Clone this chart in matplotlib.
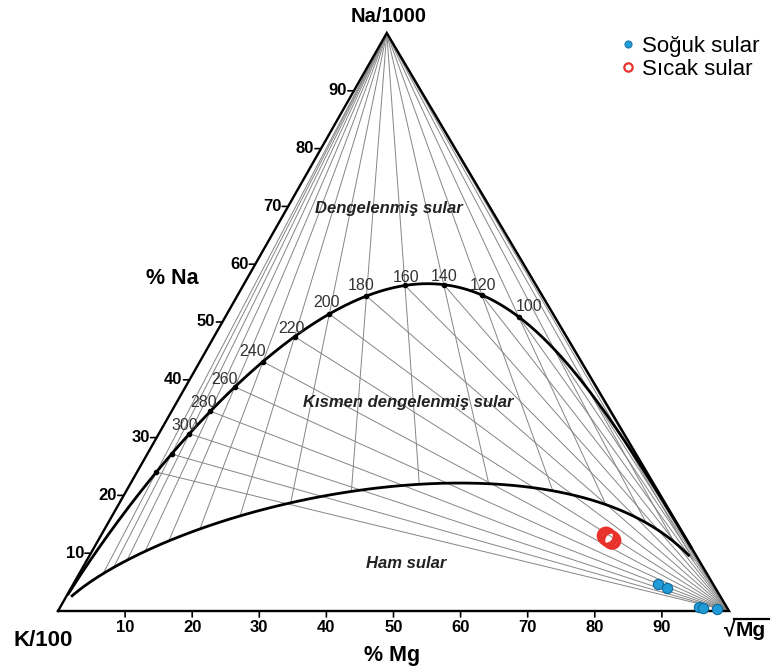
import numpy as np
import matplotlib.pyplot as plt
from matplotlib.lines import Line2D

plt.rcParams['font.family'] = ['Liberation Sans', 'DejaVu Sans']

# isotherm temperatures (C) for the K-Na and K-Mg geothermometers
iso_temps = [20, 40, 60, 80, 100, 120, 140, 160, 180, 200, 220, 240, 260, 280, 300, 320, 340]
dot_temps = [100, 120, 140, 160, 180, 200, 220, 240, 260, 280, 300, 320, 340]
label_temps = [100, 120, 140, 160, 180, 200, 220, 240, 260, 280, 300]
axis_ticks = [10, 20, 30, 40, 50, 60, 70, 80, 90]

# samples as % Na and % Mg on the ternary (Na/1000, K/100, sqrt Mg)
cold_na = [4.6, 4.0, 0.7, 0.6, 0.3]
cold_mg = [87.1, 88.8, 95.2, 95.9, 98.1]
hot_na = [13.0, 12.8, 12.6, 12.4, 12.2]
hot_mg = [75.3, 75.6, 75.9, 76.3, 76.6]

# triangle shape (K at origin, Mg at (1, 0))
APEX_X = 0.49
APEX_Y = 0.862
W, H = 771, 668


def tern_xy(na, mg):
    na = np.asarray(na, float)
    mg = np.asarray(mg, float)
    return mg + na * APEX_X, na * APEX_Y


def to_xy(na, k, rmg):
    s = na + k + rmg
    return tern_xy(na / s, rmg / s)


def full_eq(t):
    # Giggenbach (1988): log(K/Na) = 1.75 - 1390/T, log(K2/Mg) = 14.0 - 4410/T
    T = np.asarray(t, float) + 273.15
    k = 1000 * 10 ** (1.75 - 1390 / T)
    mg = k ** 2 / 10 ** (14.0 - 4410 / T)
    return to_xy(np.ones_like(T), k / 100, np.sqrt(mg))


def partial_eq(t):
    # immature-water boundary, maturity index = 2.0
    T = np.asarray(t, float) + 273.15
    lkm = 14.0 - 4410 / T
    k = 1000 * 10 ** (0.315 * lkm - 2.0)
    mg = k ** 2 / 10 ** lkm
    return to_xy(np.ones_like(T), k / 100, np.sqrt(mg))


def fxy(x, y):
    return x / W, 1 - y / H


fig = plt.figure(figsize=(W / 100, H / 100), dpi=100)
ax = fig.add_axes([58 / W, (H - 611) / H, 671 / W, 578 / H])
ax.set_xlim(0, 1)
ax.set_ylim(0, APEX_Y)
ax.axis('off')

thin = dict(color='#858585', lw=0.7, zorder=1)

# K-Mg isotherms: from the Na apex down to the partial equilibrium line
for t in iso_temps:
    x, y = partial_eq(t)
    ax.plot([APEX_X, x], [APEX_Y, y], **thin)

# K-Na isotherms: from the full equilibrium line to the Mg corner
for t in iso_temps:
    x, y = full_eq(t)
    ax.plot([x, 1.0], [y, 0.0], **thin)

# equilibrium curves
fx, fy = full_eq(np.linspace(-15, 850, 600))
ax.plot(fx, fy, color='black', lw=2.0, zorder=3)
px, py = partial_eq(np.linspace(46, 480, 600))
ax.plot(px, py, color='black', lw=2.0, zorder=3)

# triangle frame
ax.plot([0, 1, APEX_X, 0], [0, 0, APEX_Y, 0], color='black', lw=1.7,
        zorder=4, clip_on=False, solid_joinstyle='miter')

# dots and labels on the full equilibrium line
dx, dy = full_eq(dot_temps)
ax.plot(dx, dy, 'o', color='black', ms=3, zorder=5)
lab_off = [(10, 10), (1, 10), (0, 8), (1, 8), (-5, 11), (-3, 11),
           (-3, 8), (-10, 10), (-10, 7), (-7, 9), (-5, 8)]
lx, ly = full_eq(label_temps)
for t, x, y, off in zip(label_temps, lx, ly, lab_off):
    ax.annotate(str(t), (x, y), xytext=off, textcoords='offset pixels',
                ha='center', va='center', fontsize=11.5, color='#333333', zorder=6)

# axis ticks
for v in axis_ticks:
    x, y = tern_xy(v / 100, 0)
    ax.annotate('', (x, y), xytext=(-6, 0), textcoords='offset pixels',
                arrowprops=dict(arrowstyle='-', lw=1.2, color='black',
                                shrinkA=0, shrinkB=0))
    ax.annotate(str(v), (x, y), xytext=(-7, 0), textcoords='offset pixels',
                ha='right', va='center', fontsize=12, fontweight='bold')
    x, y = tern_xy(0, v / 100)
    ax.annotate('', (x, y), xytext=(0, -6), textcoords='offset pixels',
                arrowprops=dict(arrowstyle='-', lw=1.2, color='black',
                                shrinkA=0, shrinkB=0))
    ax.annotate(str(v), (x, y), xytext=(0, -16), textcoords='offset pixels',
                ha='center', va='center', fontsize=12, fontweight='bold')

# samples
cx, cy = tern_xy(np.array(cold_na) / 100, np.array(cold_mg) / 100)
ax.scatter(cx, cy, s=55, facecolor='#1f9bd7', edgecolor='#11699a', lw=0.8,
           zorder=7, clip_on=False)
hx, hy = tern_xy(np.array(hot_na) / 100, np.array(hot_mg) / 100)
ax.scatter(hx, hy, s=135, facecolor='none', edgecolor='#e8322b', lw=1.8, zorder=7)

# region names
region = dict(fontsize=12, fontweight='bold', fontstyle='italic',
              color='#222222', ha='center', va='center')
fig.text(*fxy(389, 208), 'Dengelenmiş sular', **region)
fig.text(*fxy(408, 402), 'Kısmen dengelenmiş sular', **region)
fig.text(*fxy(406, 563), 'Ham sular', **region)

# corner and axis titles
title = dict(fontweight='bold', ha='center', va='center')
fig.text(*fxy(389, 17), 'Na/1000', fontsize=14.5, **title)
fig.text(*fxy(43, 640), 'K/100', fontsize=16, **title)
fig.text(*fxy(172, 278), '% Na', fontsize=15.5, **title)
fig.text(*fxy(392, 655), '% Mg', fontsize=15.5, **title)

# sqrt Mg corner label with its overline
fig.text(*fxy(724, 636), '√', fontsize=15, fontweight='bold', ha='left', va='baseline')
fig.text(*fxy(736, 636), 'Mg', fontsize=15, fontweight='bold', ha='left', va='baseline')
fig.add_artist(Line2D([734 / W, 769 / W], [1 - 619 / H] * 2,
                      transform=fig.transFigure, color='black', lw=1.6))

handles = [
    Line2D([], [], ls='none', marker='o', ms=5.2, mfc='#1f9bd7', mec='#11699a',
           mew=0.6, label='Soğuk sular'),
    Line2D([], [], ls='none', marker='o', ms=6, mfc='none', mec='#e8322b',
           mew=1.6, label='Sıcak sular'),
]
fig.legend(handles=handles, loc='upper left', bbox_to_anchor=fxy(620, 36),
           frameon=False, fontsize=16, handlelength=0.7, handletextpad=0.3,
           labelspacing=0.1, borderpad=0, borderaxespad=0)

fig.savefig('out.png', dpi=100)
